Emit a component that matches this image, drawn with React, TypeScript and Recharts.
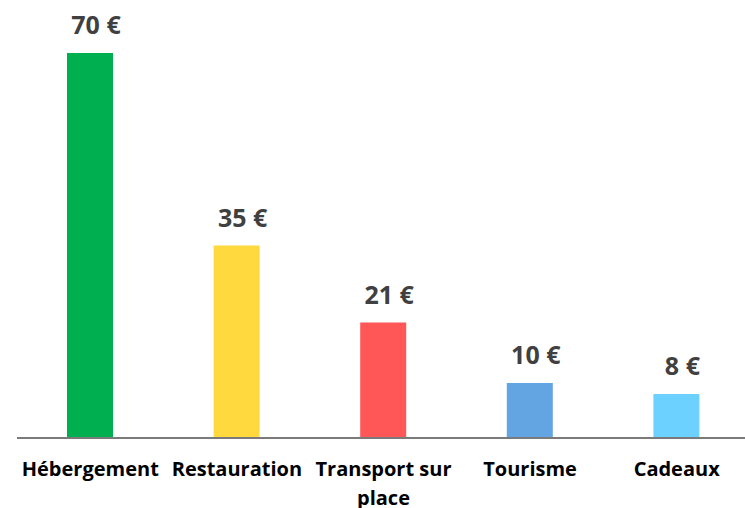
import React from 'react';
import { BarChart, Bar, XAxis, YAxis, Cell, LabelList } from 'recharts';

const categories = ['Hébergement', 'Restauration', 'Transport sur place', 'Tourisme', 'Cadeaux'];
const amounts = [70, 35, 21, 10, 8];
const barColors = ['#00B050', '#FFD93D', '#FF5757', '#63A4E2', '#6DD1FF'];

const data = categories.map((name, i) => ({ name, value: amounts[i] }));

const FONT = '"Open Sans", "Liberation Sans", sans-serif';

// split long labels into lines of at most ~13 characters
const wrapLabel = (text: string, maxChars = 13): string[] => {
  const lines: string[] = [];
  let current = '';
  text.split(' ').forEach((word) => {
    const next = current ? `${current} ${word}` : word;
    if (next.length > maxChars && current) {
      lines.push(current);
      current = word;
    } else {
      current = next;
    }
  });
  if (current) lines.push(current);
  return lines;
};

const CategoryTick = (props: any) => {
  const { x, y, payload } = props;
  const lines = wrapLabel(payload.value);
  return (
    <text
      x={x}
      y={y + 38}
      textAnchor="middle"
      fill="#000000"
      fontFamily={FONT}
      fontWeight={700}
      fontSize={20}
    >
      {lines.map((line, i) => (
        <tspan key={i} x={x} dy={i === 0 ? 0 : 29}>
          {line}
        </tspan>
      ))}
    </text>
  );
};

const ValueLabel = (props: any) => {
  const { x, y, width, value } = props;
  return (
    <text
      x={x + width / 2 + 6}
      y={y - 19}
      textAnchor="middle"
      fill="#404040"
      fontFamily={FONT}
      fontWeight={700}
      fontSize={25}
    >
      {`${value} €`}
    </text>
  );
};

export default function App() {
  return (
    <div
      style={{
        position: 'absolute',
        left: 0,
        top: 0,
        width: 745,
        height: 508,
        overflow: 'hidden',
        background: '#ffffff',
      }}
    >
      <BarChart
        width={752}
        height={508}
        data={data}
        margin={{ top: 25.5, right: 2, left: 17, bottom: 0 }}
        barSize={46}
      >
        <XAxis
          dataKey="name"
          height={70}
          interval={0}
          axisLine={{ stroke: '#7A7A7A', strokeWidth: 2 }}
          tickLine={false}
          tickSize={0}
          tickMargin={0}
          tick={<CategoryTick />}
        />
        <YAxis hide domain={[0, 75]} />
        <Bar dataKey="value" isAnimationActive={false}>
          {data.map((_, i) => (
            <Cell key={`cell-${i}`} fill={barColors[i]} />
          ))}
          <LabelList dataKey="value" content={<ValueLabel />} />
        </Bar>
      </BarChart>
    </div>
  );
}
